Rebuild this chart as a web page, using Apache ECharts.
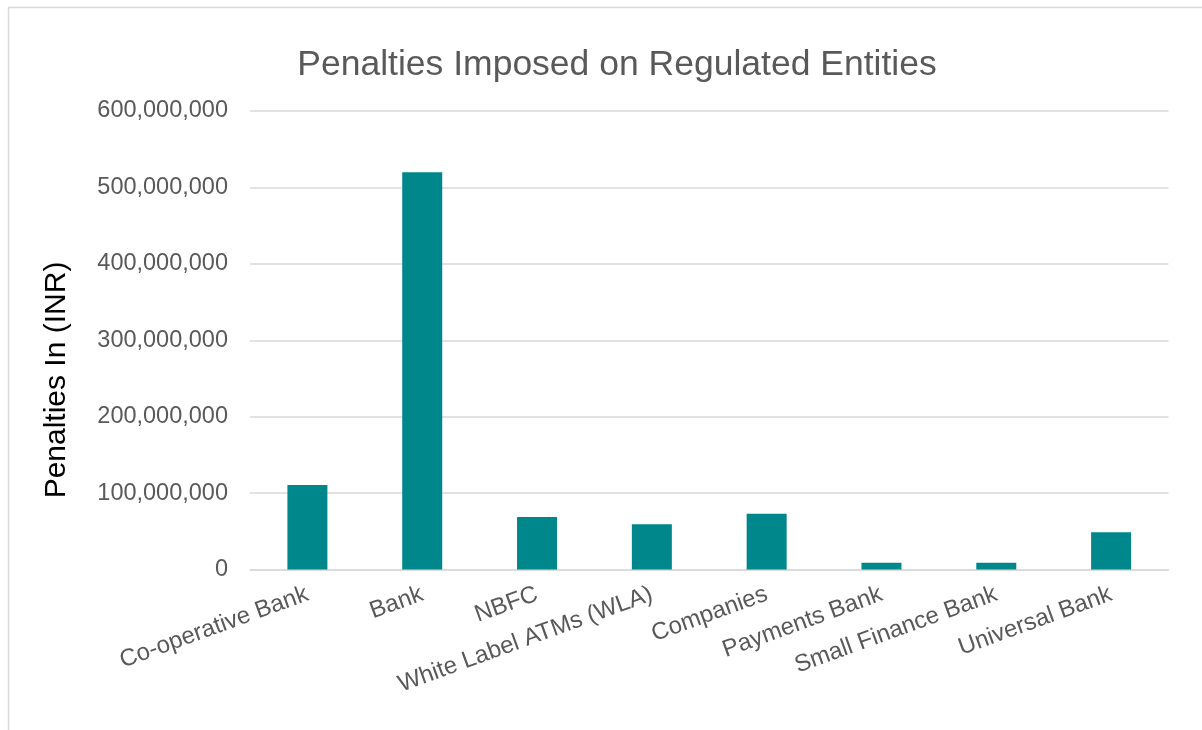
<!DOCTYPE html>
<html>
<head>
<meta charset="utf-8">
<script src="https://cdn.jsdelivr.net/npm/echarts@6/dist/echarts.min.js"></script>
<style>
html,body{margin:0;padding:0;background:#fff;}
#chart{width:1202px;height:730px;}
</style>
</head>
<body>
<div id="chart"></div>
<script>
const categories = ['Co-operative Bank', 'Bank', 'NBFC', 'White Label ATMs (WLA)', 'Companies', 'Payments Bank', 'Small Finance Bank', 'Universal Bank'];
const penalties = [110600000, 520000000, 68700000, 59200000, 73000000, 8900000, 8900000, 48700000];
const chartTitle = 'Penalties Imposed on Regulated Entities';
const yAxisTitle = 'Penalties In (INR)';
const yMin = 0, yMax = 600000000, yStep = 100000000;

const chart = echarts.init(document.getElementById('chart'));
chart.setOption({
  backgroundColor: '#ffffff',
  animation: false,
  title: {
    text: chartTitle,
    left: 612,
    textAlign: 'center',
    top: 42,
    textStyle: {
      fontFamily: '"Liberation Sans", Arial, sans-serif',
      fontSize: 35.5,
      fontWeight: 'normal',
      color: '#595959'
    }
  },
  graphic: [
    {
      type: 'rect',
      shape: { x: 8.5, y: 7.5, width: 1400, height: 900 },
      style: { fill: 'none', stroke: '#d9d9d9', lineWidth: 1.5 },
      silent: true
    },
    {
      type: 'text',
      x: 57,
      y: 380,
      rotation: Math.PI / 2,
      style: {
        text: yAxisTitle,
        fontFamily: '"Liberation Sans", Arial, sans-serif',
        fontSize: 30,
        fill: '#000000',
        textAlign: 'center',
        textVerticalAlign: 'middle'
      }
    }
  ],
  grid: { left: 250, right: 33.5, top: 111, bottom: 160.5, containLabel: false },
  xAxis: {
    type: 'category',
    data: categories,
    axisTick: { show: false },
    axisLine: { show: true, lineStyle: { color: '#d9d9d9', width: 1.5 } },
    axisLabel: {
      rotate: 20,
      interval: 0,
      margin: 24,
      fontFamily: '"Liberation Sans", Arial, sans-serif',
      fontSize: 24,
      color: '#595959'
    }
  },
  yAxis: {
    type: 'value',
    min: yMin,
    max: yMax,
    interval: yStep,
    axisLine: { show: false },
    axisTick: { show: false },
    splitLine: { show: true, lineStyle: { color: '#d9d9d9', width: 1.5 } },
    axisLabel: {
      margin: 22,
      fontFamily: '"Liberation Sans", Arial, sans-serif',
      fontSize: 23.5,
      color: '#595959',
      formatter: v => v.toLocaleString('en-US')
    }
  },
  series: [{
    type: 'bar',
    data: penalties,
    barWidth: 40,
    itemStyle: { color: '#00878C' }
  }]
});
</script>
</body>
</html>
